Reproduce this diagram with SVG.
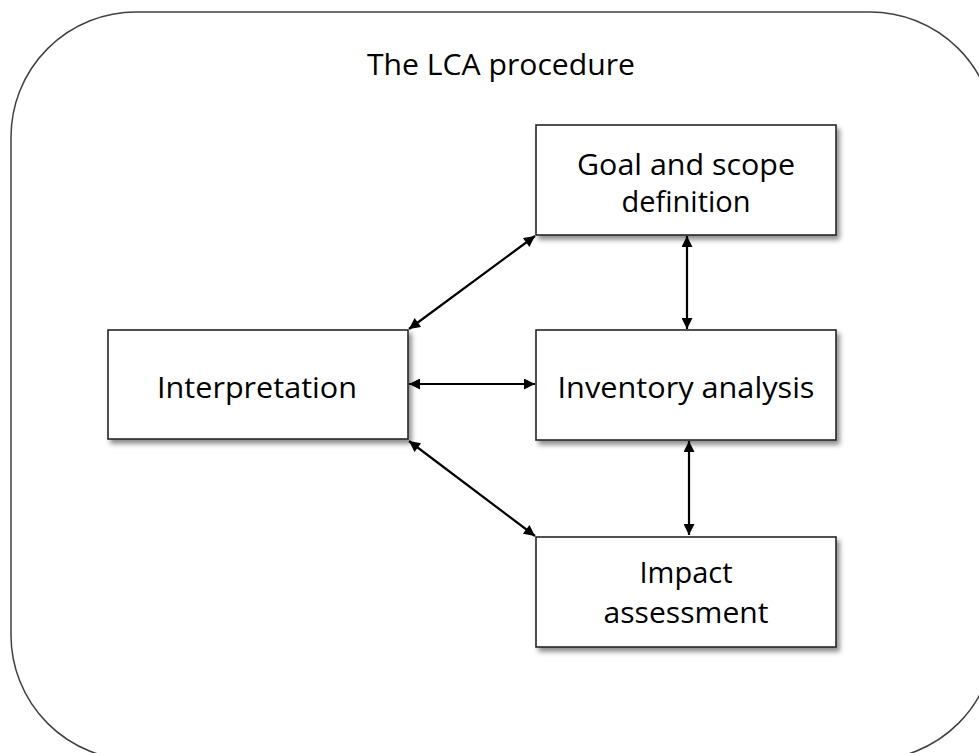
<svg xmlns="http://www.w3.org/2000/svg" width="979" height="753" viewBox="0 0 979 753">
  <style>
    .frame { fill: #ffffff; stroke: #404040; stroke-width: 1.5; }
    .box { fill: #ffffff; stroke: #262626; stroke-width: 1.6; filter: url(#shadow); }
    .label { font-family: "Open Sans", "Liberation Sans", sans-serif; font-size: 29px; fill: #000000; text-anchor: middle; }
    .title { font-size: 30px; }
    .link { stroke: #000000; stroke-width: 2.2; fill: none; marker-start: url(#head); marker-end: url(#head); }
  </style>
  <defs>
    <filter id="shadow" x="-10%" y="-10%" width="125%" height="135%">
      <feDropShadow dx="3" dy="4" stdDeviation="2.5" flood-color="#000000" flood-opacity="0.45"/>
    </filter>
    <marker id="head" viewBox="0 0 10 10" refX="10" refY="5" markerWidth="6" markerHeight="5" markerUnits="strokeWidth" orient="auto-start-reverse">
      <path d="M0,0 L10,5 L0,10 z" fill="#000000"/>
    </marker>
  </defs>

  <rect width="979" height="753" fill="#ffffff"/>

  <!-- outer rounded frame -->
  <rect class="frame" x="11" y="12" width="984" height="748" rx="125" ry="125"/>
  <text class="label title" x="501" y="75" textLength="268" lengthAdjust="spacingAndGlyphs">The LCA procedure</text>

  <g id="connectors">
    <line class="link" x1="409" y1="329" x2="535" y2="236"/>
    <line class="link" x1="409" y1="384" x2="535" y2="384"/>
    <line class="link" x1="409" y1="441" x2="535" y2="536"/>
    <line class="link" x1="687" y1="236" x2="687" y2="329"/>
    <line class="link" x1="689" y1="441" x2="689" y2="535"/>
  </g>

  <g id="goal">
    <rect class="box" x="536" y="125" width="300" height="110"/>
    <text class="label" x="686" y="175" textLength="218" lengthAdjust="spacingAndGlyphs">Goal and scope</text>
    <text class="label" x="686" y="212">definition</text>
  </g>

  <g id="interpretation">
    <rect class="box" x="108" y="330" width="300" height="109"/>
    <text class="label" x="257" y="398" textLength="200" lengthAdjust="spacingAndGlyphs">Interpretation</text>
  </g>

  <g id="inventory">
    <rect class="box" x="536" y="330" width="300" height="110"/>
    <text class="label" x="686" y="398" textLength="257" lengthAdjust="spacingAndGlyphs">Inventory analysis</text>
  </g>

  <g id="impact">
    <rect class="box" x="536" y="537" width="300" height="110"/>
    <text class="label" x="686" y="583">Impact</text>
    <text class="label" x="686" y="623" textLength="165" lengthAdjust="spacingAndGlyphs">assessment</text>
  </g>
</svg>
